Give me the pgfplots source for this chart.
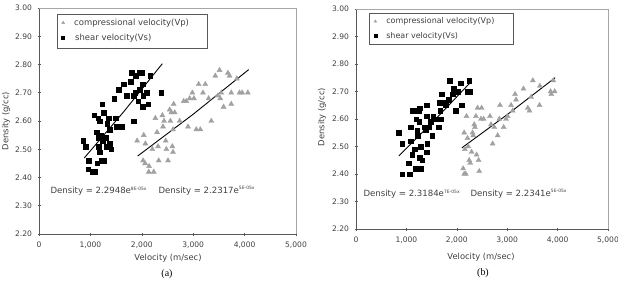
\documentclass[border=0pt]{standalone}
\usepackage{pgfplots}
\pgfplotsset{compat=1.18}
\usepackage{pgfplotstable}
\usepackage{fontspec}
\setmainfont{DejaVu Sans}
\newfontfamily\capfont{Liberation Serif}

% ---------- panel (a) ----------
\pgfplotstableread{
x y
860 2.53
912 2.51
964 2.46
958 2.43
1087 2.42
1040 2.42
1074 2.62
1119 2.56
1152 2.54
1165 2.51
1184 2.49
1132 2.45
1216 2.46
1229 2.66
1152 2.61
1262 2.63
1300 2.54
1313 2.51
1352 2.61
1372 2.57
1378 2.52
1404 2.50
1262 2.46
1200 2.55
1240 2.53
1462 2.68
1488 2.61
1507 2.58
1553 2.71
1611 2.58
1643 2.73
1702 2.69
1779 2.74
1805 2.77
1838 2.69
1844 2.60
1870 2.70
1883 2.76
1928 2.67
1960 2.71
1960 2.77
1993 2.77
2012 2.73
2025 2.69
2012 2.65
2090 2.70
2122 2.66
2167 2.76
2381 2.70
1180 2.60
1330 2.59
}\shearA

\pgfplotstableread{
x y
1909 2.53
2038 2.55
2070 2.52
2025 2.46
2064 2.45
2142 2.44
2135 2.42
2232 2.42
2206 2.50
2264 2.61
2297 2.56
2316 2.51
2329 2.46
2400 2.62
2413 2.58
2433 2.60
2465 2.53
2478 2.50
2510 2.46
2543 2.64
2556 2.60
2575 2.63
2594 2.51
2607 2.49
2620 2.66
2640 2.63
2607 2.57
2737 2.60
2814 2.67
2866 2.67
2899 2.58
2931 2.68
2983 2.70
3015 2.68
3060 2.57
3106 2.73
3138 2.57
3190 2.70
3235 2.73
3300 2.68
3352 2.60
3430 2.76
3481 2.69
3513 2.78
3526 2.68
3546 2.70
3591 2.65
3675 2.77
3707 2.76
3740 2.70
3740 2.66
3850 2.75
3901 2.70
3953 2.70
4063 2.70
}\compA

% ---------- panel (b) ----------
\pgfplotstableread{
x y
850 2.55
917 2.51
917 2.40
1050 2.44
1063 2.40
1083 2.52
1083 2.57
1130 2.63
1116 2.47
1163 2.49
1183 2.42
1196 2.60
1216 2.56
1229 2.54
1249 2.63
1256 2.59
1262 2.64
1282 2.50
1269 2.46
1296 2.42
1315 2.45
1349 2.57
1382 2.56
1402 2.65
1402 2.61
1415 2.51
1402 2.48
1449 2.57
1482 2.59
1515 2.54
1528 2.61
1561 2.60
1635 2.57
1648 2.66
1668 2.63
1681 2.60
1701 2.69
1728 2.66
1781 2.65
1834 2.67
1861 2.74
1914 2.69
1934 2.71
1980 2.63
2013 2.70
2080 2.73
2100 2.65
2213 2.70
2246 2.74
2266 2.70
}\shearB

\pgfplotstableread{
x y
2126 2.42
2146 2.40
2180 2.40
2160 2.49
2146 2.55
2193 2.61
2213 2.53
2226 2.50
2246 2.45
2266 2.44
2293 2.48
2313 2.55
2326 2.54
2346 2.58
2359 2.57
2392 2.47
2379 2.61
2412 2.64
2432 2.45
2445 2.41
2479 2.60
2492 2.64
2532 2.60
2658 2.61
2678 2.58
2711 2.51
2744 2.57
2811 2.54
2844 2.60
2857 2.65
2930 2.57
2977 2.60
3010 2.61
3077 2.65
3110 2.63
3156 2.69
3176 2.67
3322 2.71
3409 2.64
3442 2.63
3475 2.68
3509 2.74
3648 2.72
3642 2.65
3861 2.70
3874 2.69
3914 2.74
3941 2.70
}\compB

\definecolor{ptgray}{gray}{0.63}
\definecolor{axgray}{gray}{0.35}
\definecolor{framegray}{gray}{0.65}
\definecolor{txt}{gray}{0.25}

\pgfplotsset{
  panel/.style={
    scale only axis,
    xmin=0, xmax=5000, ymin=2.2, ymax=3.0,
    axis lines=left,
    axis line style={-, draw=axgray, line width=0.8bp},
    xtick={0,1000,2000,3000,4000,5000},
    xticklabels={0,{1,000},{2,000},{3,000},{4,000},{5,000}},
    ytick={2.2,2.3,2.4,2.5,2.6,2.7,2.8,2.9,3.0},
    yticklabels={2.20,2.30,2.40,2.50,2.60,2.70,2.80,2.90,3.00},
    tick style={draw=axgray, line width=0.6bp},
    major tick length=3bp, tick align=center,
    tick label style={font=\fontsize{7.6}{8}\selectfont, text=txt},
    xticklabel style={yshift=-3bp},
    yticklabel style={xshift=-2bp},
    clip=false,
    legend cell align=left,
  },
  vp/.style={only marks, mark=triangle*, mark size=2.9bp,
    mark options={fill=ptgray, draw=ptgray},
    legend image code/.code={\path[draw=none, fill=none] (0bp,0bp) -- (13bp,0bp);
      \path[##1, draw=none, mark size=1.6bp] plot coordinates {(4bp,0bp)};}},
  vs/.style={only marks, mark=square*, mark size=2.3bp,
    mark options={fill=black, draw=black},
    legend image code/.code={\path[draw=none, fill=none] (0bp,0bp) -- (13bp,0bp);
      \path[##1, draw=none, mark size=1.5bp] plot coordinates {(4bp,0bp)};}},
  fit/.style={no marks, black, line width=0.9bp, forget plot},
}
\tikzset{eqn/.style={anchor=base west, font=\fontsize{8.6}{9}\selectfont, text=txt}}
\newcommand{\ex}[1]{\raisebox{0.7ex}{\fontsize{4.5}{5}\selectfont #1}}

\begin{document}
\begin{tikzpicture}[x=1bp, y=1bp]
\useasboundingbox (0,0) rectangle (618,283);

% ===== (a) =====
\begin{axis}[panel,
  at={(39bp,49bp)}, anchor=south west, width=257bp, height=226bp,
  legend style={at={(0.070,0.973)}, anchor=north west, fill=white,
    draw=none, text=txt, font=\fontsize{8.5}{10}\selectfont,
    row sep=3bp, inner xsep=2bp, inner ysep=2.5bp},
]
\draw[framegray, line width=0.7bp] (rel axis cs:0,1) -- (rel axis cs:1,1) -- (rel axis cs:1,0);
\addplot[vp] table {\compA};
\addlegendentry{compressional velocity(Vp)\hspace{12bp}}
\addplot[vs] table {\shearA};
\addlegendentry{\hspace{1bp}shear velocity(Vs)}
\addplot[fit] coordinates {(880,2.469) (1640,2.631) (2400,2.803)};
\addplot[fit] coordinates {(1920,2.476) (3000,2.624) (4080,2.782)};
\node[eqn] at (axis cs:156,2.342) {Density = 2.2948e\ex{8E-05x}};
\node[eqn] at (axis cs:2257,2.345) {Density = 2.2317e\ex{5E-05x}};
\end{axis}
% legend frame
\draw[axgray, line width=0.9bp] (57,235) rectangle (207,269);
\node[rotate=90, font=\fontsize{8.4}{9}\selectfont, text=txt] at (6,162) {Density (g/cc)};
\node[font=\fontsize{8.4}{9}\selectfont, text=txt] at (168,25) {Velocity (m/sec)};
\node[font=\capfont\fontsize{10}{10}\selectfont] at (167,9) {(a)};

% ===== (b) =====
\begin{axis}[panel,
  at={(356bp,54bp)}, anchor=south west, width=252bp, height=220bp,
  legend style={at={(0.052,0.982)}, anchor=north west, fill=white,
    draw=none, text=txt, font=\fontsize{8}{9}\selectfont,
    row sep=3bp, inner xsep=2bp, inner ysep=2.5bp},
]
\draw[framegray, line width=0.7bp] (rel axis cs:0,1) -- (rel axis cs:1,1) -- (rel axis cs:1,0);
\addplot[vp] table {\compB};
\addlegendentry{compressional velocity(Vp)\hspace{10bp}}
\addplot[vs] table {\shearB};
\addlegendentry{shear velocity(Vs)}
\addplot[fit] coordinates {(850,2.466) (1550,2.594) (2250,2.729)};
\addplot[fit] coordinates {(2100,2.495) (3000,2.616) (3950,2.750)};
\node[eqn] at (axis cs:80,2.318) {Density = 2.3184e\ex{7E-05x}};
\node[eqn] at (axis cs:2202,2.320) {Density = 2.2341e\ex{5E-05x}};
\end{axis}
% legend frame
\draw[axgray, line width=0.9bp] (369,239) rectangle (513,270);
\node[rotate=90, font=\fontsize{8.4}{9}\selectfont, text=txt] at (322,166) {Density (g/cc)};
\node[font=\fontsize{8.4}{9}\selectfont, text=txt] at (481,26) {Velocity (m/sec)};
\node[font=\capfont\fontsize{10}{10}\selectfont] at (483,10) {(b)};
\end{tikzpicture}
\end{document}
